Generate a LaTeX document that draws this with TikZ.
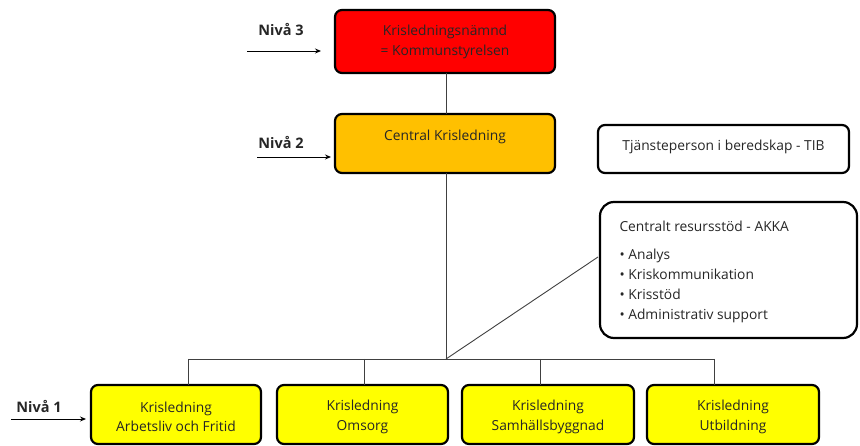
\documentclass[tikz,border=0pt]{standalone}
\usepackage{fontspec}
\setmainfont{Open Sans}
\usetikzlibrary{arrows.meta}
\definecolor{kred}{HTML}{FF0000}
\definecolor{korange}{HTML}{FFC000}
\definecolor{kyellow}{HTML}{FFFF00}
\definecolor{kline}{HTML}{404040}
\begin{document}
\begin{tikzpicture}[x=1pt,y=-1pt,
  box/.style={draw=black,line width=2.2pt,rounded corners=7pt,inner sep=0pt},
  lbl/.style={font=\fontsize{13.8}{19.5}\selectfont,align=center,text=black!85},
  niva/.style={font=\bfseries\fontsize{14.5}{16}\selectfont,text=black!85},
  conn/.style={draw=kline,line width=0.9pt},
  arr/.style={draw=black,line width=0.9pt,-{Stealth[length=6pt,width=5pt]}}]
\useasboundingbox (0,0) rectangle (860,446);
% boxes
\draw[box,fill=kred] (335,10) rectangle (555,73);
\node[lbl] (top) at (445,42) {Krisledningsnämnd\\= Kommunstyrelsen};
\coordinate (topb) at (446,73);
\draw[box,fill=korange] (335,114) rectangle (555,173);
\node[lbl] (central) at (445,137) {Central Krisledning};
\coordinate (centt) at (446,114);
\coordinate (centb) at (446,173);
\draw[box,fill=white] (598,125) rectangle (849,173);
\node[lbl] (tib) at (723.5,147) {Tjänsteperson i beredskap - TIB};
\draw[box,fill=white,rounded corners=14pt] (600,202) rectangle (857,338);
\node[lbl,anchor=north west,align=left] (akka) at (616,217) {Centralt resursstöd - AKKA};
\node[lbl,anchor=north west,align=left,font=\fontsize{13.8}{20}\selectfont] (akkalist) at (616,245) {• Analys\\• Kriskommunikation\\• Krisstöd\\• Administrativ support};
\coordinate (akkal) at (598,257);
% bottom boxes
\foreach \n/\xa/\xb/\t in {b1/91/261/{Krisledning\\Arbetsliv och Fritid},b2/277/448/{Krisledning\\Omsorg},b3/462/634/{Krisledning\\Samhällsbyggnad},b4/647/819/{Krisledning\\Utbildning}}{
  \draw[box,fill=kyellow] (\xa,385) rectangle (\xb,444);
  \node[lbl] (\n) at ({(\xa+\xb)/2},417) {\t};
}
% connectors
\coordinate (bus) at (446,359);
\coordinate (d1) at (188,359);
\coordinate (d2) at (364,359);
\coordinate (d3) at (540,359);
\coordinate (d4) at (714,359);
\draw[conn] (topb) -- (centt);
\draw[conn] (centb) -- (bus);
\draw[conn] (bus) -- (akkal);
\draw[conn] (d1) -- (d4);
\draw[conn] (d1) -- ++(0,26);
\draw[conn] (d2) -- ++(0,26);
\draw[conn] (d3) -- ++(0,26);
\draw[conn] (d4) -- ++(0,26);
% levels
\node[niva] (n3) at (281,30) {Nivå 3};
\node[niva] (n2) at (281,143) {Nivå 2};
\node[niva] (n1) at (39,407) {Nivå 1};
\coordinate (a3s) at (247,51); \coordinate (a3e) at (321,51);
\coordinate (a2s) at (257,157); \coordinate (a2e) at (331,157);
\coordinate (a1s) at (11,419); \coordinate (a1e) at (86,419);
\draw[arr] (a3s) -- (a3e);
\draw[arr] (a2s) -- (a2e);
\draw[arr] (a1s) -- (a1e);
\end{tikzpicture}
\end{document}
